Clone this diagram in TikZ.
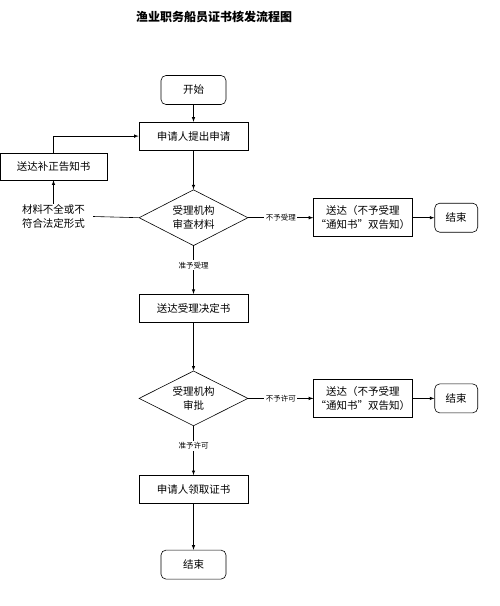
\documentclass[tikz,border=0pt]{standalone}
\usepackage{fontspec}
\setmainfont{Noto Sans CJK SC}
\usetikzlibrary{positioning, shapes.geometric}

\begin{document}
\begin{tikzpicture}[
        x=1pt, y=1pt,
        every node/.style={font=\fontsize{10.5}{13.5}\selectfont, align=center},
        box/.style={draw, line width=0.6pt, minimum width=109pt, minimum height=28pt, inner sep=2pt},
        endbox/.style={draw, line width=0.6pt, rounded corners=5pt, minimum width=65pt, minimum height=29pt},
        check/.style={draw, line width=0.6pt, diamond, aspect=2, minimum width=109pt, minimum height=56pt, inner sep=0pt},
        tag/.style={fill=white, font=\fontsize{7.5}{9}\selectfont, inner sep=1.5pt},
        line/.style={draw, line width=0.6pt, -latex}
    ]
        \useasboundingbox (0,0) rectangle (500,-606);
        \node[font=\fontsize{12}{14}\selectfont\bfseries] (title) at (214,-17) {渔业职务船员证书核发流程图};

        % main column
        \node[endbox] (start) at (193.5,-90) {开始};
        \node[box, below=17pt of start] (apply) {申请人提出申请};
        \node[check, below=39pt of apply] (review) {受理机构\\审查材料};
        \node[box, below=48pt of review] (accept) {送达受理决定书};
        \node[check, below=48pt of accept, minimum height=55pt] (approve) {受理机构\\审批};
        \node[box, below=49pt of approve] (collect) {申请人领取证书};
        \node[endbox, below=46pt of collect] (finish) {结束};

        % side branches
        \node[box, minimum width=98pt, minimum height=38pt, right=65pt of review] (refuseA) {送达（不予受理\\“通知书”双告知）};
        \node[endbox, minimum width=43pt, right=22pt of refuseA] (stopA) {结束};
        \node[box, minimum width=98pt, minimum height=38pt, right=65pt of approve] (refuseB) {送达（不予受理\\“通知书”双告知）};
        \node[endbox, minimum width=43pt, right=22pt of refuseB] (stopB) {结束};
        \node[box, minimum width=107pt, minimum height=27pt] (notice) at (53.5,-166.5) {送达补正告知书};
        \node[inner xsep=8pt, inner ysep=1pt] (lack) at (53.5,-216.5) {材料不全或不\\符合法定形式};

        \draw[line] (start) -- (apply);
        \draw[line] (apply) -- (review);
        \draw[line] (review) -- node[tag, pos=0.4] {准予受理} (accept);
        \draw[line] (review) -- node[tag] {不予受理} (refuseA);
        \draw[line] (refuseA) -- (stopA);
        \draw[line width=0.6pt] (review.west) -- (lack.east);
        \draw[line] (lack) -- (notice);
        \draw[line] (notice) |- (apply);
        \draw[line] (accept) -- (approve);
        \draw[line] (approve) -- node[tag] {不予许可} (refuseB);
        \draw[line] (refuseB) -- (stopB);
        \draw[line] (approve) -- node[tag, pos=0.4] {准予许可} (collect);
        \draw[line] (collect) -- (finish);
    \end{tikzpicture}
\end{document}
